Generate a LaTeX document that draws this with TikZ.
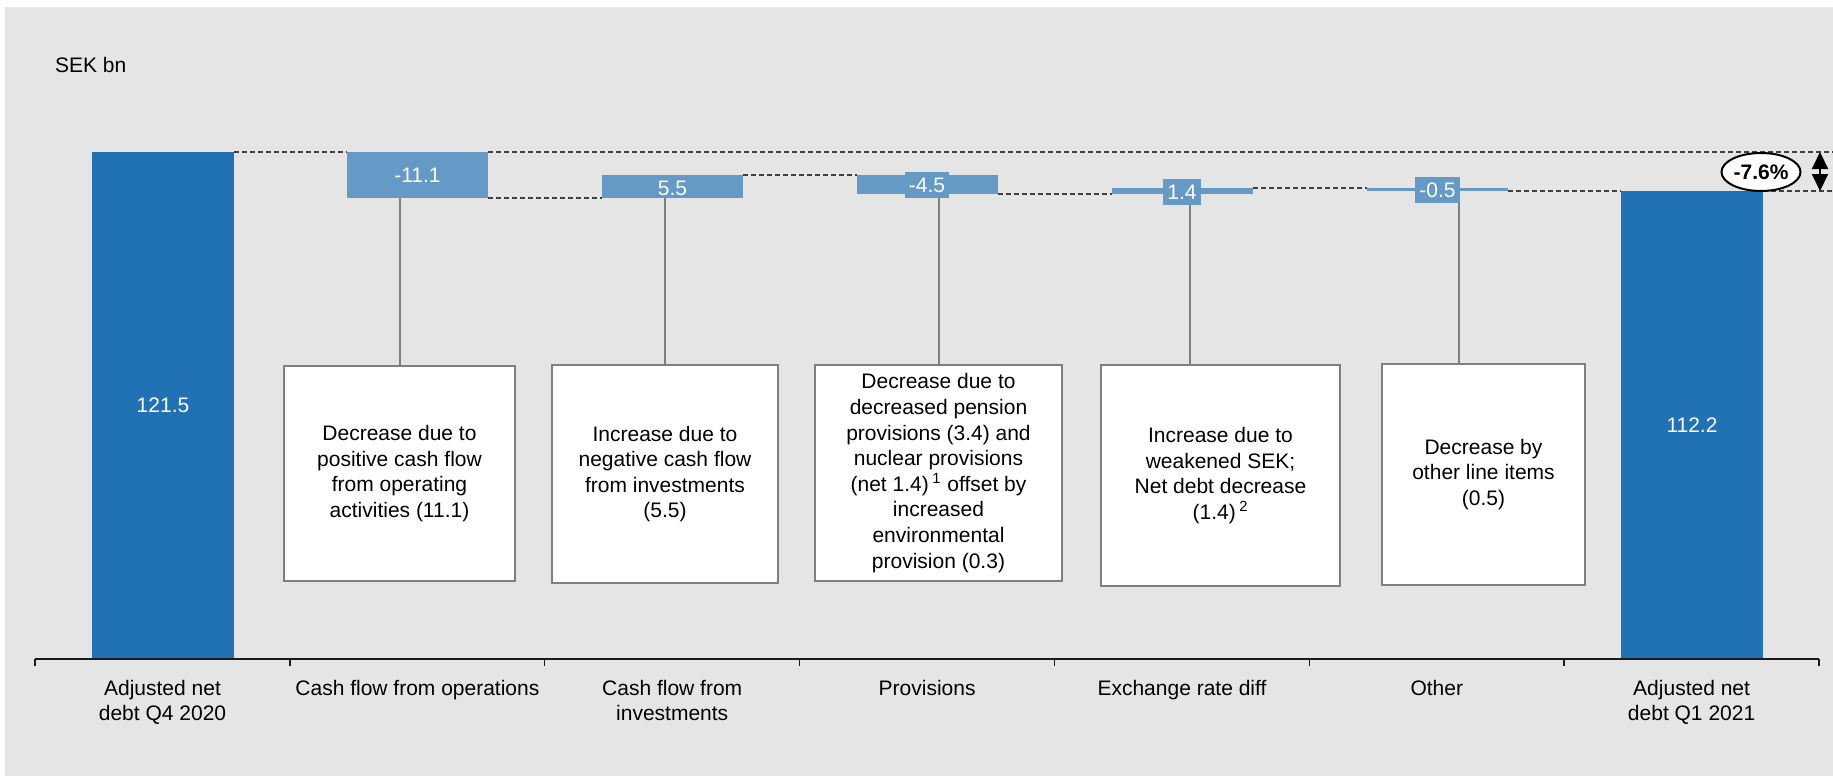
\documentclass[tikz,border=0pt]{standalone}
\usepackage{fontspec}
\setmainfont{Liberation Sans}
\usetikzlibrary{arrows.meta,shapes.geometric,calc}
\definecolor{bg}{HTML}{E5E5E5}
\definecolor{dblue}{HTML}{2171B5}
\definecolor{lblue}{HTML}{659AC7}
\definecolor{boxgray}{HTML}{7F7F7F}
\definecolor{dashgray}{HTML}{404040}
\definecolor{axisc}{HTML}{1A1A1A}
\newcommand\fs{\fontsize{10.5pt}{12.8pt}\selectfont}
\newcommand\fsc{\fontsize{10.5pt}{12.5pt}\selectfont}
\begin{document}
\begin{tikzpicture}[x=0.5pt,y=-0.5pt,
  every node/.style={font=\fs, inner sep=0pt, outer sep=0pt},
  mainbar/.style={fill=dblue, minimum width=71pt, text=white},
  fbar/.style={fill=lblue, minimum width=70.5pt},
  vlabel/.style={fill=lblue, text=white, minimum height=13pt, inner xsep=2pt},
  infobox/.style={draw=boxgray, line width=1.25pt, fill=white, align=center},
  conn/.style={draw=boxgray, line width=1pt},
  dashln/.style={draw=dashgray, line width=0.6pt, dash pattern=on 2.5pt off 1.5pt},
  cat/.style={align=center, anchor=base, font=\fsc},
]
\useasboundingbox (0,0) rectangle (1833,776);
\fill[white] (0,0) rectangle (1833,776);
\fill[bg] (5,7) rectangle (1833,776);

\node[anchor=base west] (unit) at (55,72.5) {SEK bn};

% bars
\node[mainbar, minimum height=253.5pt] (q4) at (163,405.5) {121.5};
\node[mainbar, minimum height=234pt] (q1) at (1692,425) {112.2};
\node[fbar, minimum height=23pt, text=white] (f1) at (417.5,175) {-11.1};
\node[fbar, minimum height=11.5pt] (f2) at (672.5,186.5) {};
\node[text=white] (l2) at (672.5,188.5) {5.5};
\node[fbar, minimum height=9.5pt] (f3) at (927.5,184.5) {};
\node[vlabel] (l3) at (927,185) {-4.5};
\node[fbar, minimum height=3pt] (f4) at (1182.5,191) {};
\node[vlabel] (l4) at (1182,192) {1.4};
\node[fbar, minimum height=1.5pt] (f5) at (1437,189.5) {};
\node[vlabel] (l5) at (1437.5,190) {-0.5};

% dashed step lines
\coordinate (rt) at (1833,152);
\coordinate (rb) at (1833,191);
\draw[dashln] (q4.north east) -- (f1.north west);
\draw[dashln] (f1.north east) -- (rt);
\draw[dashln] (f1.south east) -- (f2.south west);
\draw[dashln] (f2.north east) -- (f3.north west);
\draw[dashln] (f3.south east) -- (f4.south west);
\draw[dashln] (f4.north east) -- (f5.north west);
\draw[dashln] (f5.south east) -- (f5.south east -| q1.west);
\draw[dashln] (q1.north east) -- (rb);

% explanation boxes
\node[infobox, minimum width=115.5pt, minimum height=107.5pt] (b1) at (399.5,473.5)
  {Decrease due to\\positive cash flow\\from operating\\activities (11.1)};
\node[infobox, minimum width=113pt, minimum height=109pt] (b2) at (665,474)
  {Increase due to\\negative cash flow\\from investments\\(5.5)};
\node[infobox, minimum width=123.5pt, minimum height=108pt] (b3) at (938.5,473)
  {Decrease due to\\decreased pension\\provisions (3.4) and\\nuclear provisions\\(net 1.4)\,\textsuperscript{1} offset by\\increased\\environmental\\provision (0.3)};
\node[infobox, minimum width=119.5pt, minimum height=110.5pt] (b4) at (1220.5,475.5)
  {Increase due to\\weakened SEK;\\Net debt decrease\\(1.4)\,\textsuperscript{2}};
\node[infobox, minimum width=101.5pt, minimum height=110.5pt] (b5) at (1483.5,474.5)
  {Decrease by\\other line items\\(0.5)};

% connectors
\draw[conn] (f1.south -| b1.north) -- (b1.north);
\draw[conn] (f2.south -| b2.north) -- (b2.north);
\draw[conn] (l3.south -| b3.north) -- (b3.north);
\draw[conn] ([xshift=4pt]l4.south) -- ([xshift=4pt]l4.south |- b4.north);
\draw[conn] ([xshift=-0.5pt]l5.south east) -- ([xshift=-0.5pt]l5.south east |- b5.north);

% axis
\coordinate (ax0) at (35,659);
\coordinate (ax1) at (1819,659);
\draw[draw=axisc, line width=0.85pt] (ax0) -- (ax1);
\foreach \i in {0,...,7} \draw[draw=axisc, line width=0.75pt] ({35+254.857*\i},659) -- ++(0,6.5);

% category labels (base anchor = baseline of last line)
\node[cat] (c1) at (162.5,720) {Adjusted net\\debt Q4 2020};
\node[cat] (c2) at (417.4,695) {Cash flow from operations};
\node[cat] (c3) at (672.2,720) {Cash flow from\\investments};
\node[cat] (c4) at (927.1,695) {Provisions};
\node[cat] (c5) at (1182,695) {Exchange rate diff};
\node[cat] (c6) at (1436.8,695) {Other};
\node[cat] (c7) at (1691.6,720) {Adjusted net\\debt Q1 2021};

% change marker
\node[ellipse, draw=black, fill=white, line width=1pt, minimum width=39.5pt, minimum height=19pt, font=\fs\bfseries] (pct) at (1761,172) {-7.6\%};
\coordinate (at) at (1820,152);
\coordinate (ab) at (1820,191);
\draw[line width=1pt, {Triangle[width=8pt,length=8.5pt]}-{Triangle[width=8pt,length=8.5pt]}] (at) -- (ab);
\end{tikzpicture}
\end{document}
